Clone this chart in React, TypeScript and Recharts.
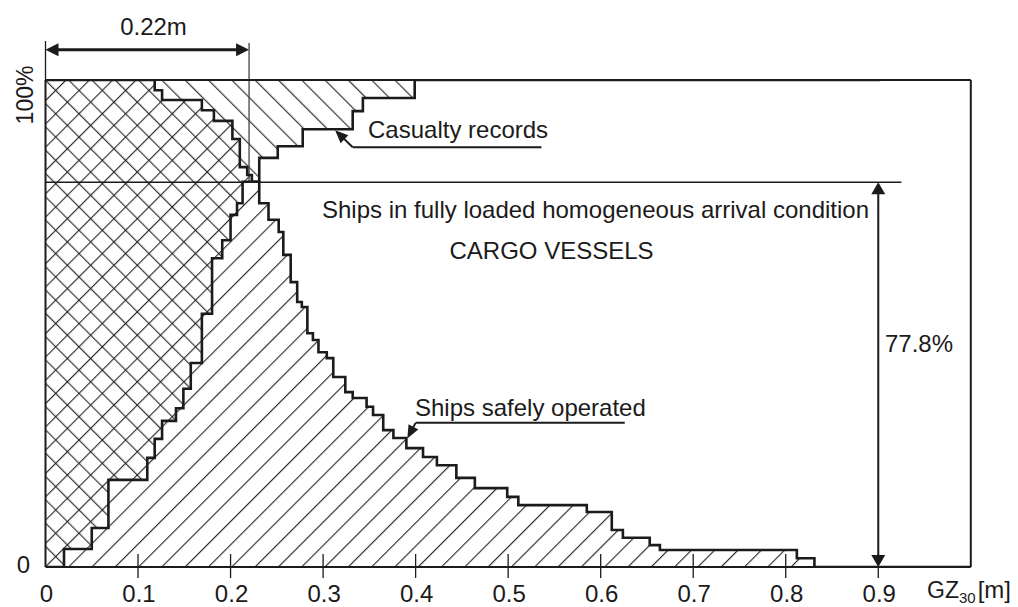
import React from 'react';
import { ComposedChart, Area, Line, XAxis, YAxis, ReferenceLine } from 'recharts';

// ---------- data ----------
const xTicks = [0, 0.1, 0.2, 0.3, 0.4, 0.5, 0.6, 0.7, 0.8, 0.9];
const xTickLabels = ['0', '0.1', '0.2', '0.3', '0.4', '0.5', '0.6', '0.7', '0.8', '0.9'];

// Ships safely operated (cumulative share with GZ30 above x), step curve
const safeX = [0, 0.118, 0.126, 0.169, 0.182, 0.202, 0.21, 0.218, 0.223, 0.231, 0.241, 0.252, 0.257, 0.265, 0.272, 0.277, 0.283, 0.289, 0.295, 0.304, 0.311, 0.324, 0.332, 0.347, 0.354, 0.365, 0.376, 0.39, 0.408, 0.423, 0.444, 0.464, 0.499, 0.511, 0.585, 0.612, 0.624, 0.653, 0.664, 0.812, 0.831, 1.0];
const safePct = [100, 97.9, 95.9, 93.8, 91.6, 87.9, 82.1, 80.5, 79.1, 74.7, 71.3, 68.8, 64.1, 58.5, 54.4, 53.4, 48.0, 46.6, 44.1, 42.9, 39.0, 35.9, 34.7, 32.9, 31.2, 28.1, 26.5, 24.4, 22.6, 20.9, 18.3, 16.2, 14.4, 12.7, 11.3, 7.6, 6.0, 4.5, 3.5, 1.8, 0, 0];

// Casualty records (cumulative share with GZ30 below x), step curve
const casX = [0, 0.02, 0.05, 0.068, 0.11, 0.118, 0.126, 0.141, 0.149, 0.157, 0.169, 0.18, 0.191, 0.2, 0.207, 0.213, 0.231, 0.251, 0.278, 0.332, 0.343, 0.399, 0.902];
const casPct = [0, 3.7, 8.0, 17.9, 22.4, 26.3, 30.0, 32.6, 36.6, 41.9, 52.0, 63.4, 67.1, 72.3, 74.7, 79.1, 84.0, 86.4, 89.9, 93.6, 96.3, 100, 100];

const levelPct = 79;          // drawn level of the 77.8% line
const levelLabel = '77.8%';
const gzMark = 0.22;          // 0.22 m dimension
const levelLineEnd = 0.925;
const dimTop = 108;
const dimArrowY = 106.2;
const casPointer = { x0: 0.332, x1: 0.536, y: 86.2, tipX: 0.313, tipY: 89.7 };
const safePointer = { x0: 0.4, x1: 0.626, y: 29.6, tipX: 0.391, tipY: 26.4 };

// ---------- table built from the arrays ----------
const stepValue = (xs: number[], ys: number[], x: number) => {
  if (x > xs[xs.length - 1] + 1e-9) return null;
  let v = ys[0];
  for (let i = 0; i < xs.length; i++) if (xs[i] <= x + 1e-9) v = ys[i];
  return v;
};
const allX = Array.from(new Set([...safeX, ...casX])).sort((a, b) => a - b);
const data = allX.map((x) => ({ x, safe: stepValue(safeX, safePct, x), cas: stepValue(casX, casPct, x) }));

const INK = '#1c1a1a';
const HATCH = '#222';
const FONT = '"Liberation Sans", Arial, Helvetica, sans-serif';

type ArrowOpts = { start?: boolean; end?: boolean; w: number; len: number; half: number; color?: string };
const arrowShape = (o: ArrowOpts) => (p: any) => {
  const x1 = Number(p.x1), y1 = Number(p.y1), x2 = Number(p.x2), y2 = Number(p.y2);
  const dx = x2 - x1, dy = y2 - y1;
  const L = Math.hypot(dx, dy) || 1;
  const ux = dx / L, uy = dy / L;
  const nx = -uy, ny = ux;
  const c = o.color ?? INK;
  const head = (tx: number, ty: number, dx2: number, dy2: number) => {
    const bx = tx - dx2 * o.len, by = ty - dy2 * o.len;
    return `${tx},${ty} ${bx + nx * o.half},${by + ny * o.half} ${bx - nx * o.half},${by - ny * o.half}`;
  };
  const sx = o.start ? x1 + ux * o.len * 0.8 : x1;
  const sy = o.start ? y1 + uy * o.len * 0.8 : y1;
  const ex = o.end ? x2 - ux * o.len * 0.8 : x2;
  const ey = o.end ? y2 - uy * o.len * 0.8 : y2;
  return (
    <g>
      <line x1={sx} y1={sy} x2={ex} y2={ey} stroke={c} strokeWidth={o.w} />
      {o.start && <polygon points={head(x1, y1, -ux, -uy)} fill={c} />}
      {o.end && <polygon points={head(x2, y2, ux, uy)} fill={c} />}
    </g>
  );
};

const XTick = (props: any) => {
  const { x, y, payload } = props;
  const v = payload.value as number;
  let idx = 0;
  xTicks.forEach((t, i) => { if (Math.abs(t - v) < 1e-9) idx = i; });
  return (
    <g>
      {v !== 0 && <line x1={x} x2={x} y1={y - 13} y2={y + 11} stroke={INK} strokeWidth={1.3} />}
      <text x={x + 1} y={y + 35} textAnchor="middle" fontFamily={FONT} fontSize={24} fill={INK}>
        {xTickLabels[idx]}
      </text>
    </g>
  );
};

const txt = { fontFamily: FONT, fontSize: 24, fill: INK } as const;

export default function App() {
  return (
    <div style={{ position: 'absolute', left: 0, top: 0, width: 1018, height: 607, background: '#fff' }}>
      <ComposedChart width={1018} height={607} data={data} margin={{ top: 80, right: 47.2, bottom: 0, left: 45.5 }}>
        <defs>
          <pattern id="hatchFwd" patternUnits="userSpaceOnUse" width={16.48} height={16.48} patternTransform="rotate(45)">
            <line x1={4.46} y1={-2} x2={4.46} y2={18.5} stroke={HATCH} strokeWidth={1.1} />
          </pattern>
          <pattern id="hatchBack" patternUnits="userSpaceOnUse" width={16.48} height={16.48} patternTransform="rotate(-45)">
            <line x1={8.4} y1={-2} x2={8.4} y2={18.5} stroke={HATCH} strokeWidth={1.1} />
          </pattern>
        </defs>
        <XAxis
          dataKey="x"
          type="number"
          domain={[0, 1]}
          ticks={xTicks}
          allowDataOverflow
          height={40}
          tickSize={0}
          tickMargin={0}
          tickLine={false}
          axisLine={{ stroke: INK, strokeWidth: 2 }}
          tick={(p: any) => <XTick {...p} />}
          interval={0}
        />
        <YAxis hide type="number" domain={[0, 100]} allowDataOverflow />

        <Area dataKey="safe" type="stepAfter" baseValue={0} fill="url(#hatchFwd)" fillOpacity={1} stroke="none" isAnimationActive={false} />
        <Area dataKey="cas" type="stepAfter" baseValue={100} fill="url(#hatchBack)" fillOpacity={1} stroke="none" isAnimationActive={false} />

        <ReferenceLine ifOverflow="visible" segment={[{ x: 0, y: 0 }, { x: 0, y: 100 }]} stroke={INK} strokeWidth={2} />
        <ReferenceLine ifOverflow="visible" segment={[{ x: 0, y: 100 }, { x: 0, y: dimTop }]} stroke={INK} strokeWidth={1.3} />
        <ReferenceLine ifOverflow="visible" segment={[{ x: gzMark, y: levelPct }, { x: gzMark, y: dimTop - 0.4 }]} stroke="#444" strokeWidth={1.3} />
        <ReferenceLine ifOverflow="visible" segment={[{ x: 0, y: dimArrowY }, { x: gzMark, y: dimArrowY }]} shape={arrowShape({ start: true, end: true, w: 3, len: 13, half: 6.5 })} />
        <ReferenceLine ifOverflow="visible" segment={[{ x: 0, y: 100 }, { x: 1, y: 100 }]} stroke={INK} strokeWidth={2} />
        <ReferenceLine ifOverflow="visible" segment={[{ x: 1, y: 0 }, { x: 1, y: 100 }]} stroke={INK} strokeWidth={2} />
        <ReferenceLine ifOverflow="visible" segment={[{ x: 0, y: levelPct }, { x: levelLineEnd, y: levelPct }]} stroke={INK} strokeWidth={1.3} />
        <ReferenceLine ifOverflow="visible" segment={[{ x: 0.9, y: levelPct }, { x: 0.9, y: 0 }]} shape={arrowShape({ start: true, end: true, w: 2, len: 12, half: 7 })} />
        <ReferenceLine ifOverflow="visible" segment={[{ x: casPointer.x0, y: casPointer.y }, { x: casPointer.x1, y: casPointer.y }]} stroke={INK} strokeWidth={2} />
        <ReferenceLine ifOverflow="visible" segment={[{ x: casPointer.x0, y: casPointer.y }, { x: casPointer.tipX, y: casPointer.tipY }]} shape={arrowShape({ end: true, w: 2, len: 13, half: 5.5 })} />
        <ReferenceLine ifOverflow="visible" segment={[{ x: safePointer.x0, y: safePointer.y }, { x: safePointer.x1, y: safePointer.y }]} stroke={INK} strokeWidth={2} />
        <ReferenceLine ifOverflow="visible" segment={[{ x: safePointer.x0, y: safePointer.y }, { x: safePointer.tipX, y: safePointer.tipY }]} shape={arrowShape({ end: true, w: 2, len: 13, half: 5.5 })} />

        <Line dataKey="safe" type="stepAfter" stroke={INK} strokeWidth={2.6} dot={false} activeDot={false} isAnimationActive={false} />
        <Line dataKey="cas" type="stepAfter" stroke={INK} strokeWidth={2.6} dot={false} activeDot={false} isAnimationActive={false} />

        <text x={153.5} y={35} textAnchor="middle" {...txt}>0.22m</text>
        <text x={368} y={137.5} {...txt}>Casualty records</text>
        <text x={322} y={218} {...txt}>Ships in fully loaded homogeneous arrival condition</text>
        <text x={551.5} y={259} textAnchor="middle" {...txt}>CARGO VESSELS</text>
        <text x={415} y={416} {...txt}>Ships safely operated</text>
        <text x={885} y={352} {...txt}>{levelLabel}</text>
        <text transform="translate(33,95) rotate(-90)" textAnchor="middle" {...txt} fontSize={23}>100%</text>
        <text x={23.5} y={573} textAnchor="middle" {...txt}>0</text>
        <text x={927} y={598} {...txt} fontSize={23}>
          GZ<tspan fontSize={15} dy={5}>30</tspan>
          <tspan dy={-5} dx={2} fontSize={24}>[m]</tspan>
        </text>
      </ComposedChart>
    </div>
  );
}
